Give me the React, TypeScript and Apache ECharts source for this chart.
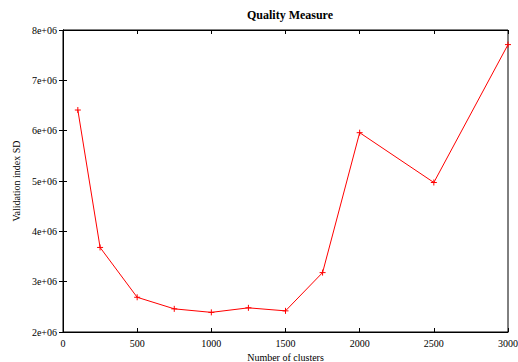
import React, { useEffect, useRef } from "react";
import * as echarts from "echarts";

const clusters = [100, 250, 500, 750, 1000, 1250, 1500, 1750, 2000, 2500, 3000];
const sdValues = [6.41e6, 3.68e6, 2.69e6, 2.46e6, 2.39e6, 2.48e6, 2.42e6, 3.18e6, 5.96e6, 4.97e6, 7.71e6];

const FONT = "Liberation Serif";

export default function App() {
  const ref = useRef<HTMLDivElement>(null);
  useEffect(() => {
    if (!ref.current) return;
    const chart = echarts.init(ref.current, null, { renderer: "svg" });
    const fmtY = (v: number) => `${Math.round(v / 1e6)}e+06`;
    const fmtX = (v: number) => String(v);
    chart.setOption({
      animation: false,
      backgroundColor: "#fff",
      title: {
        text: "Quality Measure",
        left: 285,
        textAlign: "center",
        top: 4,
        textStyle: { fontFamily: FONT, fontSize: 12, fontWeight: "bold", color: "#000" },
      },
      grid: {
        left: 63,
        right: 10,
        top: 30,
        bottom: 30,
        show: true,
        borderColor: "#000",
        borderWidth: 1,
        outerBoundsMode: "none",
        containLabel: false,
      },
      xAxis: [
        {
          type: "value",
          min: 0,
          max: 3000,
          interval: 500,
          position: "bottom",
          name: "Number of clusters",
          nameLocation: "middle",
          nameGap: 19,
          nameTextStyle: { fontFamily: FONT, fontSize: 10, color: "#000" },
          axisLine: { show: true, lineStyle: { color: "#000", width: 1 } },
          axisTick: { show: true, inside: true, length: 4, lineStyle: { color: "#000" } },
          axisLabel: { fontFamily: FONT, fontSize: 10, color: "#000", margin: 6, formatter: fmtX },
          splitLine: { show: false },
        },
        {
          type: "value",
          min: 0,
          max: 3000,
          interval: 500,
          position: "top",
          axisLine: { show: true, lineStyle: { color: "#000", width: 1 } },
          axisTick: { show: true, inside: true, length: 4, lineStyle: { color: "#000" } },
          axisLabel: { show: false },
          splitLine: { show: false },
        },
      ],
      yAxis: [
        {
          type: "value",
          min: 2e6,
          max: 8e6,
          interval: 1e6,
          position: "left",
          name: "Validation index SD",
          nameLocation: "middle",
          nameGap: 42,
          nameTextStyle: { fontFamily: FONT, fontSize: 10, color: "#000" },
          axisLine: { show: true, lineStyle: { color: "#000", width: 1 } },
          axisTick: { show: true, inside: true, length: 4, lineStyle: { color: "#000" } },
          axisLabel: { fontFamily: FONT, fontSize: 10, color: "#000", margin: 6, formatter: fmtY },
          splitLine: { show: false },
        },
        {
          type: "value",
          min: 2e6,
          max: 8e6,
          interval: 1e6,
          position: "right",
          axisLine: { show: true, lineStyle: { color: "#000", width: 1 } },
          axisTick: { show: true, inside: true, length: 4, lineStyle: { color: "#000" } },
          axisLabel: { show: false },
          splitLine: { show: false },
        },
      ],
      series: [
        {
          type: "line",
          xAxisIndex: 0,
          yAxisIndex: 0,
          data: clusters.map((c, i) => [c, sdValues[i]]),
          lineStyle: { color: "#ff0000", width: 1 },
          itemStyle: { color: "#ff0000", borderColor: "#ff0000", borderWidth: 1 },
          symbol: "path://M0,5L10,5M5,0L5,10",
          symbolSize: 6,
          showSymbol: true,
          clip: false,
        },
      ],
    });
    return () => chart.dispose();
  }, []);
  return (
    <div
      ref={ref}
      style={{ position: "absolute", left: 0, top: 0, width: 518, height: 362 }}
    />
  );
}
